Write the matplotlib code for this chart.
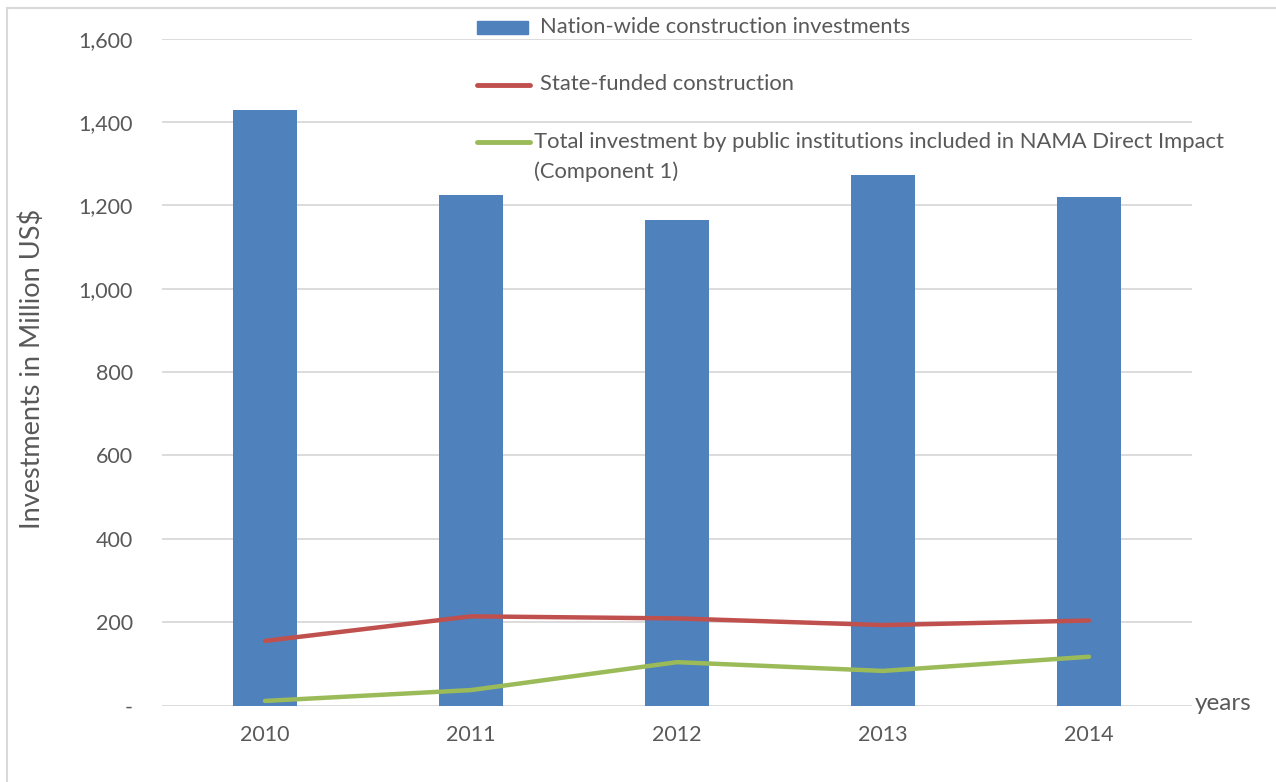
import matplotlib
matplotlib.use("Agg")
import matplotlib.pyplot as plt
from matplotlib.patches import Rectangle
from matplotlib.lines import Line2D

years = ["2010", "2011", "2012", "2013", "2014"]
nationwide = [1429, 1225, 1165, 1273, 1221]
state_funded = [155, 214, 209, 193, 204]
nama_public = [11, 37, 104, 83, 117]

labels = ["Nation-wide construction investments",
          "State-funded construction",
          "Total investment by public institutions included in NAMA Direct Impact",
          "(Component 1)"]

BLUE = "#4F81BD"
RED = "#C0504D"
GREEN = "#9BBB59"
TXT = "#595959"
GRID = "#D9D9D9"

plt.rcParams['font.family'] = ['Lato', 'DejaVu Sans']

W, H = 1276, 782
fig = plt.figure(figsize=(W / 100, H / 100), dpi=100)

def fx(px):
    return px / W

def fy(py):
    return 1 - py / H

# plot area: x 162..1192, y 38.8..705.5
ax = fig.add_axes([fx(162), fy(705.5), fx(1192) - fx(162), (705.5 - 38.8) / H])
x = list(range(len(years)))
ax.bar(x, nationwide, width=0.31, color=BLUE, zorder=2)
ax.plot(x, state_funded, color=RED, lw=3.2, solid_capstyle='round', zorder=3)
ax.plot(x, nama_public, color=GREEN, lw=3.2, solid_capstyle='round', zorder=3)

ax.set_xlim(-0.5, 4.5)
ax.set_ylim(0, 1600)
ax.set_yticks(range(0, 1601, 200))
ax.set_yticklabels(["-"] + [f"{v:,}" for v in range(200, 1601, 200)])
ax.set_xticks(x)
ax.set_xticklabels(years)
ax.grid(axis='y', color=GRID, lw=1.3, zorder=0)
ax.set_axisbelow(True)
for s in ax.spines.values():
    s.set_visible(False)
ax.tick_params(axis='both', length=0, colors=TXT, labelsize=15.5)
ax.tick_params(axis='y', pad=21)
ax.tick_params(axis='x', pad=14)

fig.text(fx(32), fy(369), "Investments in Million US$", rotation=90,
         ha='center', va='center', color=TXT, fontsize=19.5)
fig.text(fx(1195), fy(704), "years", ha='left', va='center', color=TXT, fontsize=17.5)

# legend
fig.add_artist(Rectangle((fx(477), fy(34)), fx(528) - fx(477), 13 / H,
                         transform=fig.transFigure, color=BLUE))
fig.text(fx(540), fy(27), labels[0], ha='left', va='center', color=TXT, fontsize=15.8)
fig.add_artist(Line2D([fx(477), fx(530)], [fy(85), fy(85)], transform=fig.transFigure,
                      color=RED, lw=3.5, solid_capstyle='round'))
fig.text(fx(540), fy(84), labels[1], ha='left', va='center', color=TXT, fontsize=15.8)
fig.add_artist(Line2D([fx(477), fx(530)], [fy(142), fy(142)], transform=fig.transFigure,
                      color=GREEN, lw=3.5, solid_capstyle='round'))
fig.text(fx(534), fy(142), labels[2], ha='left', va='center', color=TXT, fontsize=15.8)
fig.text(fx(534), fy(172), labels[3], ha='left', va='center', color=TXT, fontsize=15.8)

# outer frame (left and top)
fig.add_artist(Line2D([fx(6.5), fx(6.5)], [0, fy(8)], transform=fig.transFigure,
                      color=GRID, lw=1.5))
fig.add_artist(Line2D([fx(6.5), 1], [fy(8), fy(8)], transform=fig.transFigure,
                      color=GRID, lw=1.5))

fig.savefig("out.png", dpi=100)
